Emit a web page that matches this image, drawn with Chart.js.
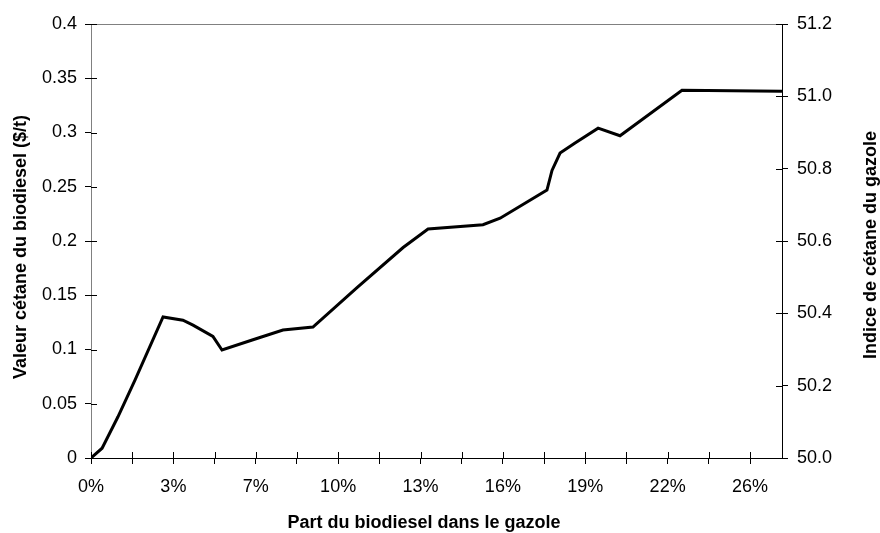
<!DOCTYPE html>
<html>
<head>
<meta charset="utf-8">
<script src="https://cdn.jsdelivr.net/npm/chart.js@4"></script>
<style>
  html, body { margin: 0; padding: 0; background: #fff; }
  #wrap { width: 880px; height: 533px; }
</style>
</head>
<body>
<div id="wrap"><canvas id="chart" width="880" height="533"></canvas></div>
<script>
// part du biodiesel (%)
var partBiodiesel = [0, 0.44, 1.07, 1.75, 2.86, 3.65, 4.05, 4.84, 5.2, 6.43, 7.62, 8.81,
    10.56, 12.39, 13.38, 15.56, 16.24, 18.1, 18.3, 18.62, 19.2, 20.13, 21.0, 23.46, 27.43];
// valeur cétane du biodiesel ($/t)
var valeurCetane = [0, 0.009, 0.038, 0.072, 0.130, 0.127, 0.1225, 0.112, 0.0995, 0.109, 0.118, 0.1207,
    0.157, 0.194, 0.211, 0.215, 0.221, 0.247, 0.265, 0.281, 0.290, 0.304, 0.297, 0.339, 0.338];

var xTickLabels = ["0%", "3%", "7%", "10%", "13%", "16%", "19%", "22%", "26%"];
var xTickStep = 1.635;   // one tick mark, labels on every second one
var xMax = 27.43;

var FONT = "'Liberation Sans', Arial, sans-serif";

var points = partBiodiesel.map(function (x, i) {
    return { x: x, y: valeurCetane[i] };
});

// Excel style tick marks that cross the axis line + axis titles
var excelLook = {
    id: "excelLook",
    afterDraw: function (chart) {
        var ctx = chart.ctx;
        var a = chart.chartArea;
        var sx = chart.scales.x, sy = chart.scales.y, sy2 = chart.scales.y2;
        ctx.save();
        ctx.lineWidth = 1;
        ctx.strokeStyle = "#000";
        sx.ticks.forEach(function (t) {
            var px = Math.round(sx.getPixelForValue(t.value)) + 0.5;
            ctx.beginPath(); ctx.moveTo(px, a.bottom); ctx.lineTo(px, a.bottom - 6); ctx.stroke();
        });
        sy2.ticks.forEach(function (t) {
            var py = Math.round(sy2.getPixelForValue(t.value)) + 0.5;
            ctx.beginPath(); ctx.moveTo(a.right, py); ctx.lineTo(a.right - 6, py); ctx.stroke();
        });
        ctx.strokeStyle = "#000";
        sy.ticks.forEach(function (t) {
            var py = Math.round(sy.getPixelForValue(t.value)) + 0.5;
            ctx.beginPath(); ctx.moveTo(a.left, py); ctx.lineTo(a.left + 6, py); ctx.stroke();
        });

        ctx.fillStyle = "#000";
        ctx.font = "bold 18px " + FONT;
        ctx.textAlign = "center";
        ctx.textBaseline = "middle";
        ctx.fillText("Part du biodiesel dans le gazole", 424, 523);

        ctx.translate(21, 247);
        ctx.rotate(-Math.PI / 2);
        ctx.fillText("Valeur cétane du biodiesel ($/t)", 0, 0);
        ctx.restore();

        ctx.save();
        ctx.fillStyle = "#000";
        ctx.font = "bold 18px " + FONT;
        ctx.textAlign = "center";
        ctx.textBaseline = "middle";
        ctx.translate(871, 245);
        ctx.rotate(-Math.PI / 2);
        ctx.fillText("Indice de cétane du gazole", 0, 0);
        ctx.restore();
    }
};

new Chart(document.getElementById("chart").getContext("2d"), {
    type: "line",
    data: {
        datasets: [{
            label: "Valeur cétane du biodiesel",
            data: points,
            yAxisID: "y",
            borderColor: "#000",
            borderWidth: 3,
            pointRadius: 0,
            tension: 0,
            fill: false
        }]
    },
    options: {
        responsive: false,
        animation: false,
        layout: { padding: { top: 24, left: 0, right: 0, bottom: 0 } },
        plugins: { legend: { display: false }, tooltip: { enabled: false } },
        scales: {
            x: {
                type: "linear",
                min: 0,
                max: xMax,
                afterBuildTicks: function (scale) {
                    var t = [];
                    for (var i = 0; i * xTickStep <= xMax; i++) t.push({ value: i * xTickStep });
                    scale.ticks = t;
                },
                afterFit: function (scale) { scale.height = 75; },
                ticks: {
                    autoSkip: false,
                    maxRotation: 0,
                    padding: 12,
                    color: "#000",
                    font: { family: FONT, size: 18 },
                    callback: function (v, i) { return i % 2 === 0 ? xTickLabels[i / 2] : ""; }
                },
                grid: { drawOnChartArea: false, tickLength: 6, tickColor: "#000" },
                border: { color: "#000", width: 1 }
            },
            y: {
                position: "left",
                min: 0,
                max: 0.4,
                afterFit: function (scale) { scale.width = 91; },
                ticks: {
                    stepSize: 0.05,
                    padding: 8,
                    color: "#000",
                    font: { family: FONT, size: 18 },
                    callback: function (v) { return String(+v.toFixed(2)); }
                },
                grid: {
                    tickLength: 6,
                    tickColor: "#000",
                    color: function (c) { return c.tick && c.tick.value >= 0.4 ? "#808080" : "rgba(0,0,0,0)"; }
                },
                border: { color: "#808080", width: 1 }
            },
            y2: {
                position: "right",
                min: 50.0,
                max: 51.2,
                afterFit: function (scale) { scale.width = 98; },
                ticks: {
                    stepSize: 0.2,
                    padding: 9,
                    color: "#000",
                    font: { family: FONT, size: 18 },
                    callback: function (v) { return v.toFixed(1); }
                },
                grid: { drawOnChartArea: false, tickLength: 6, tickColor: "#000" },
                border: { color: "#000", width: 1 }
            }
        }
    },
    plugins: [excelLook]
});
</script>
</body>
</html>
